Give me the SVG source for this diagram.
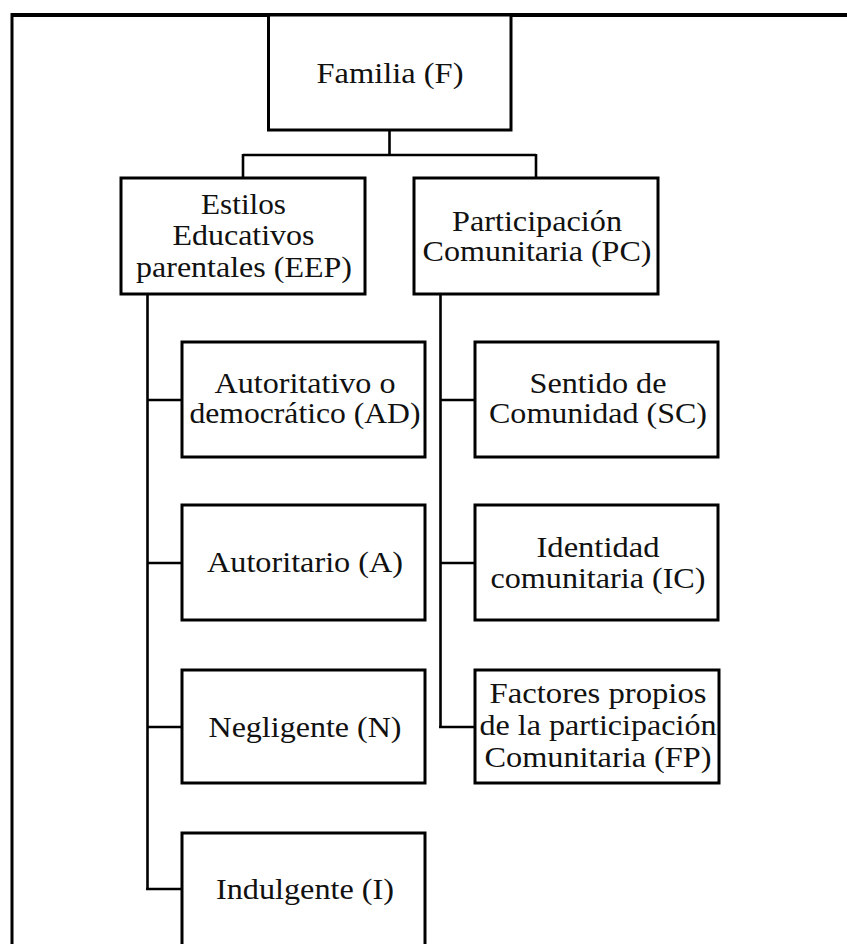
<svg xmlns="http://www.w3.org/2000/svg" width="847" height="944" viewBox="0 0 847 944">
<style>
.box{fill:#fff;stroke:#000;stroke-width:3}
.ln{fill:none;stroke:#000;stroke-width:2.6}
.t{font-family:'Liberation Serif','Times New Roman',Times,serif;font-size:30px;fill:#111;text-anchor:middle}
</style>
<rect width="847" height="944" fill="#fff"/>
<g id="frame">
<line x1="12" y1="15" x2="847" y2="15" stroke="#000" stroke-width="4"/>
<line x1="12" y1="13" x2="12" y2="944" stroke="#000" stroke-width="3"/>
</g>
<g id="connectors">
<path class="ln" d="M389.5 130 V155 M243 155 H536 M243 154 V178 M536 154 V178"/>
<path class="ln" d="M147.5 294 V889 M147.5 400 H182 M147.5 563 H182 M147.5 727 H182 M146 889 H182"/>
<path class="ln" d="M440.5 294 V727 M440.5 400 H475 M440.5 563 H475 M439 727 H475"/>
</g>
<g id="F">
<rect class="box" x="268.5" y="15" width="242.5" height="115"/>
<text class="t" x="390" y="83" textLength="147" lengthAdjust="spacingAndGlyphs">Familia (F)</text>
</g>
<g id="EEP">
<rect class="box" x="121" y="178" width="244" height="116"/>
<text class="t" x="243.5" y="214" textLength="85" lengthAdjust="spacingAndGlyphs">Estilos</text>
<text class="t" x="243.5" y="245" textLength="142" lengthAdjust="spacingAndGlyphs">Educativos</text>
<text class="t" x="244" y="277" textLength="216" lengthAdjust="spacingAndGlyphs">parentales (EEP)</text>
</g>
<g id="PC">
<rect class="box" x="414" y="178" width="244" height="116"/>
<text class="t" x="537" y="231" textLength="170" lengthAdjust="spacingAndGlyphs">Participación</text>
<text class="t" x="537" y="261" textLength="229" lengthAdjust="spacingAndGlyphs">Comunitaria (PC)</text>
</g>
<g id="AD">
<rect class="box" x="182" y="342" width="243" height="115"/>
<text class="t" x="305" y="393" textLength="181" lengthAdjust="spacingAndGlyphs">Autoritativo o</text>
<text class="t" x="305" y="423" textLength="231" lengthAdjust="spacingAndGlyphs">democrático (AD)</text>
</g>
<g id="A">
<rect class="box" x="182" y="505" width="243" height="115"/>
<text class="t" x="305" y="572" textLength="196" lengthAdjust="spacingAndGlyphs">Autoritario (A)</text>
</g>
<g id="N">
<rect class="box" x="182" y="670" width="243" height="113"/>
<text class="t" x="305" y="737" textLength="193" lengthAdjust="spacingAndGlyphs">Negligente (N)</text>
</g>
<g id="I">
<rect class="box" x="182" y="833" width="243" height="130"/>
<text class="t" x="305" y="899" textLength="178" lengthAdjust="spacingAndGlyphs">Indulgente (I)</text>
</g>
<g id="SC">
<rect class="box" x="475" y="342" width="243" height="115"/>
<text class="t" x="598" y="393" textLength="137" lengthAdjust="spacingAndGlyphs">Sentido de</text>
<text class="t" x="598" y="423" textLength="218" lengthAdjust="spacingAndGlyphs">Comunidad (SC)</text>
</g>
<g id="IC">
<rect class="box" x="475" y="505" width="243" height="115"/>
<text class="t" x="598" y="557" textLength="123" lengthAdjust="spacingAndGlyphs">Identidad</text>
<text class="t" x="598" y="588" textLength="215" lengthAdjust="spacingAndGlyphs">comunitaria (IC)</text>
</g>
<g id="FP">
<rect class="box" x="475" y="670" width="244" height="113"/>
<text class="t" x="598" y="703" textLength="217" lengthAdjust="spacingAndGlyphs">Factores propios</text>
<text class="t" x="598" y="735" textLength="237" lengthAdjust="spacingAndGlyphs">de la participación</text>
<text class="t" x="598" y="767" textLength="227" lengthAdjust="spacingAndGlyphs">Comunitaria (FP)</text>
</g>
</svg>
